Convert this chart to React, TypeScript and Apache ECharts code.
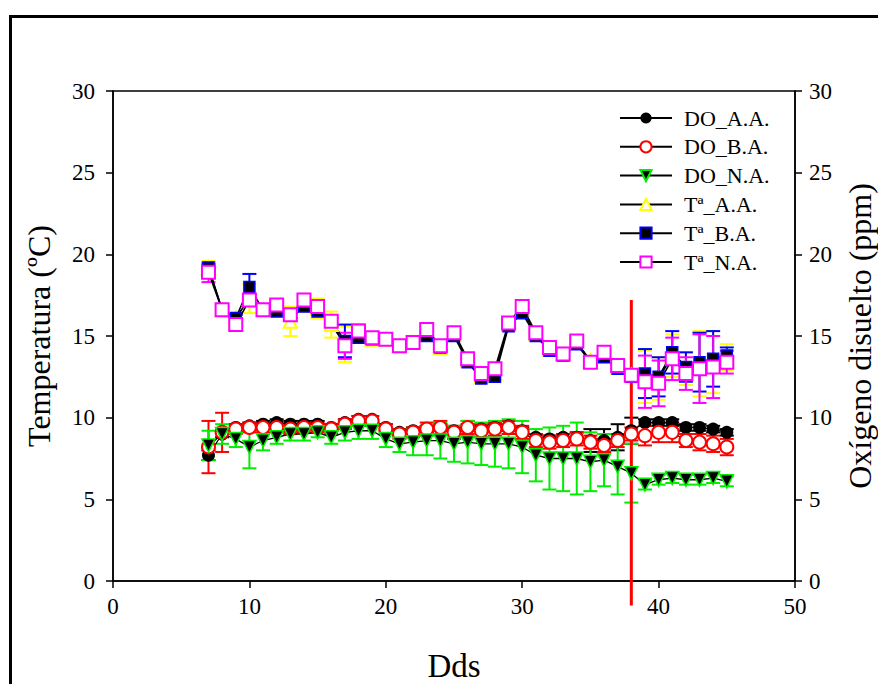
import React, { useEffect, useRef } from "react";
import * as echarts from "echarts";

const days = [7, 8, 9, 10, 11, 12, 13, 14, 15, 16, 17, 18, 19, 20, 21, 22, 23, 24, 25, 26, 27, 28, 29, 30, 31, 32, 33, 34, 35, 36, 37, 38, 39, 40, 41, 42, 43, 44, 45];

const doAA = [7.7, 9.0, 9.4, 9.5, 9.6, 9.7, 9.6, 9.6, 9.6, 9.4, 9.7, 9.9, 9.9, 9.4, 9.1, 9.2, 9.3, 9.4, 9.2, 9.4, 9.3, 9.4, 9.5, 9.2, 8.8, 8.7, 8.8, 8.8, 8.6, 8.6, 8.8, 9.2, 9.7, 9.7, 9.7, 9.4, 9.4, 9.3, 9.1];
const doAAErr = [0.3, 0.2, 0.2, 0.2, 0.2, 0.2, 0.2, 0.2, 0.2, 0.2, 0.2, 0.2, 0.2, 0.2, 0.2, 0.2, 0.2, 0.2, 0.2, 0.2, 0.2, 0.2, 0.3, 0.2, 0.2, 0.2, 0.2, 0.3, 0.7, 0.7, 0.8, 0.8, 0.2, 0.2, 0.2, 0.2, 0.2, 0.2, 0.2];

const doBA = [8.2, 9.1, 9.3, 9.4, 9.4, 9.4, 9.3, 9.4, 9.4, 9.3, 9.6, 9.8, 9.8, 9.3, 9.0, 9.1, 9.3, 9.4, 9.1, 9.4, 9.2, 9.3, 9.4, 9.1, 8.6, 8.5, 8.6, 8.7, 8.5, 8.3, 8.6, 9.0, 8.9, 9.1, 9.1, 8.6, 8.5, 8.4, 8.2];
const doBAErr = [1.6, 1.2, 0.3, 0.3, 0.3, 0.3, 0.3, 0.3, 0.3, 0.3, 0.3, 0.3, 0.3, 0.3, 0.3, 0.3, 0.4, 0.4, 0.4, 0.4, 0.4, 0.4, 0.4, 0.4, 0.4, 0.4, 0.4, 0.4, 0.4, 0.4, 0.4, 0.4, 0.6, 0.6, 0.6, 0.4, 0.5, 0.5, 0.5];

const doNA = [8.3, 9.0, 8.7, 8.2, 8.6, 8.8, 9.0, 9.0, 9.1, 8.8, 9.1, 9.2, 9.2, 8.7, 8.4, 8.5, 8.6, 8.6, 8.4, 8.5, 8.4, 8.4, 8.4, 8.2, 7.7, 7.5, 7.5, 7.5, 7.3, 7.4, 7.0, 6.6, 5.9, 6.2, 6.3, 6.2, 6.2, 6.3, 6.1];
const doNAErr = [0.9, 0.6, 0.5, 1.3, 0.6, 0.4, 0.4, 0.4, 0.3, 0.4, 0.5, 0.5, 0.5, 0.5, 0.5, 0.8, 0.9, 1.1, 1.1, 1.3, 1.3, 1.4, 1.5, 1.6, 1.6, 1.9, 2.0, 2.2, 1.8, 1.6, 1.7, 1.8, 0.3, 0.3, 0.3, 0.3, 0.3, 0.3, 0.3];

const tAA = [19.2, 16.6, 16.1, 17.3, 16.6, 16.6, 15.9, 16.9, 16.7, 15.7, 14.5, 15.0, 14.8, 14.8, 14.4, 14.6, 15.1, 14.3, 15.1, 13.5, 12.5, 12.7, 15.7, 16.6, 15.1, 14.2, 13.9, 14.6, 13.5, 13.8, 13.1, 12.6, 12.5, 12.4, 13.8, 13.0, 13.3, 13.4, 13.7];
const tAAErr = [0.4, 0.2, 0.2, 0.9, 0.2, 0.3, 0.9, 0.3, 0.6, 0.8, 1.1, 0.3, 0.2, 0.2, 0.2, 0.2, 0.2, 0.2, 0.2, 0.2, 0.2, 0.2, 0.2, 0.2, 0.2, 0.2, 0.2, 0.2, 0.2, 0.2, 0.2, 0.2, 1.6, 1.3, 1.3, 1.0, 2.0, 1.9, 0.8];

const tBA = [19.2, 16.6, 16.1, 18.0, 16.6, 16.5, 16.3, 16.8, 16.5, 15.9, 14.7, 14.9, 14.8, 14.8, 14.4, 14.6, 15.0, 14.3, 15.0, 13.4, 12.4, 12.5, 15.6, 16.4, 15.0, 14.1, 13.8, 14.5, 13.4, 13.7, 13.0, 12.5, 12.7, 12.5, 14.0, 13.1, 13.4, 13.6, 13.8];
const tBAErr = [0.2, 0.2, 0.2, 0.8, 0.2, 0.2, 0.2, 0.2, 0.2, 0.2, 1.0, 0.2, 0.2, 0.2, 0.2, 0.2, 0.2, 0.2, 0.2, 0.2, 0.2, 0.2, 0.2, 0.2, 0.2, 0.2, 0.2, 0.2, 0.2, 0.2, 0.2, 0.2, 1.5, 1.2, 1.3, 0.9, 1.8, 1.7, 0.5];

const tNA = [18.9, 16.6, 15.7, 17.2, 16.6, 16.9, 16.3, 17.2, 16.8, 15.9, 14.4, 15.3, 14.9, 14.8, 14.4, 14.6, 15.4, 14.4, 15.2, 13.6, 12.7, 13.0, 15.8, 16.8, 15.2, 14.3, 13.9, 14.7, 13.4, 14.0, 13.2, 12.6, 12.2, 12.1, 13.6, 12.7, 13.0, 13.1, 13.4];
const tNAErr = [0.6, 0.2, 0.3, 0.3, 0.2, 0.3, 0.2, 0.3, 0.2, 0.2, 0.8, 0.4, 0.2, 0.2, 0.2, 0.2, 0.2, 0.2, 0.2, 0.2, 0.2, 0.2, 0.2, 0.2, 0.2, 0.2, 0.2, 0.2, 0.2, 0.2, 0.2, 0.2, 1.6, 1.4, 1.3, 1.0, 2.1, 1.9, 0.7];

const legendNames = ["DO_A.A.", "DO_B.A.", "DO_N.A.", "Tª_A.A.", "Tª_B.A.", "Tª_N.A."];
const xTicks = { min: 0, max: 50, interval: 10 };
const yTicks = { min: 0, max: 30, interval: 5 };
const cutDay = [38];
const cutRange = [17.2, -1.5];

const FONT = "'Liberation Serif', 'Times New Roman', serif";

function pairs(vals: number[]) {
  return days.map((d, i) => [d, vals[i]]);
}
function errData(vals: number[], errs: number[]) {
  return days.map((d, i) => [d, vals[i] - errs[i], vals[i] + errs[i]]);
}

function errRender(color: string) {
  return (params: any, api: any) => {
    const x = api.value(0);
    const p1 = api.coord([x, api.value(1)]);
    const p2 = api.coord([x, api.value(2)]);
    const w = 7;
    const style = { stroke: color, lineWidth: 2 };
    return {
      type: "group",
      children: [
        { type: "line", shape: { x1: p1[0], y1: p1[1], x2: p2[0], y2: p2[1] }, style },
        { type: "line", shape: { x1: p1[0] - w, y1: p1[1], x2: p1[0] + w, y2: p1[1] }, style },
        { type: "line", shape: { x1: p2[0] - w, y1: p2[1], x2: p2[0] + w, y2: p2[1] }, style },
      ],
    };
  };
}

function errSeries(vals: number[], errs: number[], color: string, yAxisIndex: number) {
  return {
    type: "custom",
    yAxisIndex,
    renderItem: errRender(color),
    encode: { x: 0, y: [1, 2] },
    data: errData(vals, errs),
    silent: true,
  };
}

function lineSeries(name: string, vals: number[], yAxisIndex: number, symbol: string, size: number, itemStyle: any, lw = 1.3) {
  return {
    type: "line",
    name,
    yAxisIndex,
    data: pairs(vals),
    symbol,
    symbolSize: size,
    showAllSymbol: true,
    lineStyle: { color: "#000", width: lw },
    itemStyle,
  };
}

const axisCommon = {
  axisLine: { show: true, lineStyle: { color: "#000", width: 1.5 } },
  axisTick: { show: true, inside: false, length: 7, lineStyle: { color: "#000", width: 1.5 } },
  splitLine: { show: false },
  axisLabel: { color: "#000", fontSize: 23, fontFamily: FONT },
  nameTextStyle: { color: "#000", fontSize: 32, fontFamily: FONT },
};

export default function App() {
  const ref = useRef<HTMLDivElement>(null);
  useEffect(() => {
    if (!ref.current) return;
    const chart = echarts.init(ref.current, null, { renderer: "svg" });
    const triDown = "path://M0,0L10,0L5,9Z";
    chart.setOption({
      animation: false,
      backgroundColor: "#fff",
      grid: {
        left: 113, right: 83, top: 91, bottom: 103,
        containLabel: false, outerBoundsMode: "none",
        show: true, borderColor: "#000", borderWidth: 1.5, backgroundColor: "transparent",
      },
      xAxis: {
        type: "value",
        ...xTicks,
        ...axisCommon,
        axisLabel: { ...axisCommon.axisLabel, margin: 14 },
        name: "Dds",
        nameLocation: "middle",
        nameGap: 68,
        nameTextStyle: { ...axisCommon.nameTextStyle, fontSize: 33 },
      },
      yAxis: [
        {
          type: "value",
          position: "left",
          ...yTicks,
          ...axisCommon,
          axisLabel: { ...axisCommon.axisLabel, margin: 18 },
          name: "Temperatura (ºC)",
          nameLocation: "middle",
          nameRotate: 90,
          nameGap: 58,
        },
        {
          type: "value",
          position: "right",
          ...yTicks,
          ...axisCommon,
          axisLabel: { ...axisCommon.axisLabel, margin: 14 },
          name: "Oxígeno disuelto (ppm)",
          nameLocation: "middle",
          nameRotate: 90,
          nameGap: 49,
        },
      ],
      legend: {
        data: legendNames,
        orient: "vertical",
        left: 614,
        top: 102,
        itemWidth: 52,
        itemHeight: 14,
        itemGap: 6.8,
        textStyle: { color: "#000", fontSize: 22, fontFamily: FONT, padding: [0, 0, 0, 7] },
        selectedMode: false,
      },
      graphic: [
        { type: "rect", left: 8, top: 14, shape: { width: 900, height: 700 }, style: { fill: "none", stroke: "#000", lineWidth: 3 }, silent: true },
      ],
      series: [
        errSeries(tAA, tAAErr, "#ffff00", 0),
        lineSeries("Tª_A.A.", tAA, 0, "emptyTriangle", 13, { color: "#ffff00", borderWidth: 1.5 }, 1.6),
        errSeries(tBA, tBAErr, "#0000ff", 0),
        lineSeries("Tª_B.A.", tBA, 0, "rect", 11, { color: "#000", borderColor: "#0000ff", borderWidth: 1.5 }, 1.6),
        errSeries(tNA, tNAErr, "#ff00ff", 0),
        lineSeries("Tª_N.A.", tNA, 0, "emptyRect", 13, { color: "#ff00ff", borderWidth: 1.8 }, 1.6),
        errSeries(doAA, doAAErr, "#000000", 1),
        lineSeries("DO_A.A.", doAA, 1, "circle", 13, { color: "#000" }),
        errSeries(doBA, doBAErr, "#ff0000", 1),
        lineSeries("DO_B.A.", doBA, 1, "emptyCircle", 13, { color: "#ff0000", borderWidth: 1.5 }),
        errSeries(doNA, doNAErr, "#00ee00", 1),
        lineSeries("DO_N.A.", doNA, 1, triDown, 13, { color: "#000", borderColor: "#00ee00", borderWidth: 1.5 }),
        {
          type: "custom",
          yAxisIndex: 0,
          clip: false,
          silent: true,
          encode: { x: 0, y: [1, 2] },
          data: [[cutDay[0], cutRange[0], cutRange[1]]],
          renderItem: (params: any, api: any) => {
            const p1 = api.coord([api.value(0), api.value(1)]);
            const p2 = api.coord([api.value(0), api.value(2)]);
            return { type: "line", shape: { x1: p1[0], y1: p1[1], x2: p2[0], y2: p2[1] }, style: { stroke: "#ff0000", lineWidth: 3 } };
          },
        },
      ],
    });
    return () => chart.dispose();
  }, []);
  return <div ref={ref} style={{ position: "fixed", left: 0, top: 0, width: 878, height: 684 }} />;
}
